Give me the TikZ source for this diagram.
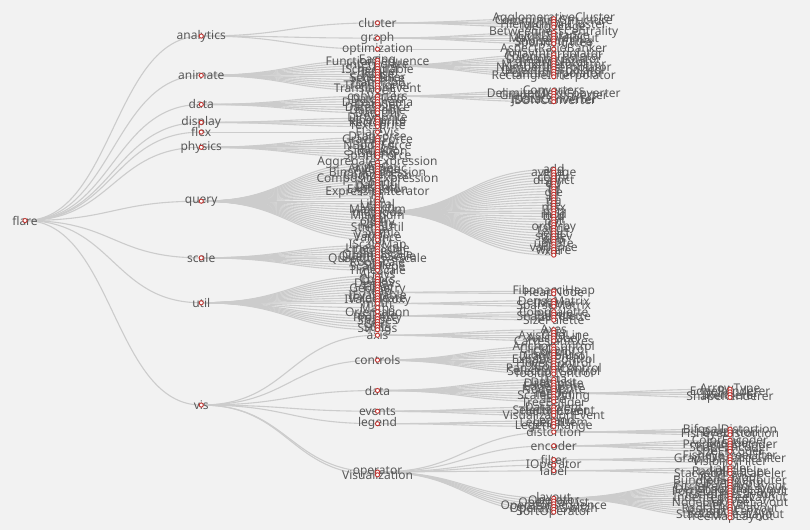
\documentclass[tikz,border=0pt]{standalone}
\usepackage{fontspec}
\setmainfont{Noto Sans}
\definecolor{bgc}{HTML}{F2F2F2}
\definecolor{edgec}{HTML}{CCCCCC}
\definecolor{dotc}{HTML}{C23531}
\definecolor{txtc}{HTML}{595959}
\tikzset{
 lbl/.style={font=\fontsize{12}{14}\selectfont, text=txtc, inner sep=0pt, anchor=center},
 lnk/.style={draw=edgec, line width=1.1pt},
 dotst/.style={draw=dotc, fill=white, line width=0.9pt},
}
\newcount\passno
% #1 name, #2 parent, #3 depth, #4 breadth unit, #5 label
\newcommand\tk[5]{\ifcase\passno
  \coordinate (#1) at ({25+176.25*#3},{36.04+2.764*(#4)});%
 \or \draw[lnk] (#2) .. controls +(88.125,0) and +(-88.125,0) .. (#1);%
 \or \node[lbl] (#1-t) at (#1) {#5};%
 \or \draw[dotst] (#1) circle[radius=2.1pt];%
 \fi}
\newcommand\rootnk[3]{\ifcase\passno
  \coordinate (#1) at (25,{36.04+2.764*(#2)});%
 \or
 \or \node[lbl] (#1-t) at (#1) {#3};%
 \or \draw[dotst] (#1) circle[radius=2.1pt];%
 \fi}
% #1 parent, #2 prefix, #3 depth, #4 first unit, #5 labels
\newcommand\leaves[5]{\foreach \lab [count=\i from 0] in {#5} {\tk{#2\lab}{#1}{#3}{#4+\i}{\lab}}}
\newcommand\flaretree{%
\rootnk{flare}{66.75}{flare}
% level 1
\tk{an}{flare}{1}{0}{analytics}
\tk{am}{flare}{1}{14.25}{animate}
\tk{da}{flare}{1}{24.75}{data}
\tk{di}{flare}{1}{31.25}{display}
\tk{fx}{flare}{1}{34.75}{flex}
\tk{ph}{flare}{1}{40.25}{physics}
\tk{qu}{flare}{1}{59.75}{query}
\tk{sc}{flare}{1}{80.25}{scale}
\tk{ut}{flare}{1}{96.5}{util}
\tk{vi}{flare}{1}{133.5}{vis}
% analytics
\tk{cl}{an}{2}{-4.75}{cluster}
\tk{gr}{an}{2}{0.75}{graph}
\tk{op}{an}{2}{4.75}{optimization}
\leaves{cl}{cl-}{3}{-6.25}{AgglomerativeCluster,CommunityStructure,HierarchicalCluster,MergeEdge}
\leaves{gr}{gr-}{3}{-1.25}{BetweennessCentrality,LinkDistance,MaxFlowMinCut,ShortestPaths,SpanningTree}
\leaves{op}{op-}{3}{4.75}{AspectRatioBanker}
% animate
\leaves{am}{am-}{2}{8.75}{Easing,FunctionSequence}
\tk{ip}{am}{2}{10.75}{interpolate}
\leaves{am}{am-}{2}{11.75}{ISchedulable,Parallel,Pause,Scheduler,Sequence,Transition,Transitioner,TransitionEvent,Tween}
\leaves{ip}{ip-}{3}{6.75}{ArrayInterpolator,ColorInterpolator,DateInterpolator,Interpolator,MatrixInterpolator,NumberInterpolator,ObjectInterpolator,PointInterpolator,RectangleInterpolator}
% data
\tk{cv}{da}{2}{21.75}{converters}
\leaves{da}{da-}{2}{22.75}{DataField,DataSchema,DataSet,DataSource,DataTable,DataUtil}
\leaves{cv}{cv-}{3}{19.75}{Converters,DelimitedTextConverter,GraphMLConverter,IDataConverter,JSONConverter}
% display, flex, physics
\leaves{di}{di-}{2}{29.75}{DirtySprite,LineSprite,RectSprite,TextSprite}
\leaves{fx}{fx-}{2}{34.75}{FlareVis}
\leaves{ph}{ph-}{2}{36.75}{DragForce,GravityForce,IForce,NBodyForce,Particle,Simulation,Spring,SpringForce}
% query
\leaves{qu}{qu-}{2}{45.75}{AggregateExpression,And,Arithmetic,Average,BinaryExpression,Comparison,CompositeExpression,Count,DateUtil,Distinct,Expression,ExpressionIterator,Fn,If,IsA,Literal,Match,Maximum}
\tk{me}{qu}{2}{63.75}{methods}
\leaves{qu}{qu-}{2}{64.75}{Minimum,Not,Or,Query,Range,StringUtil,Sum,Variable,Variance,Xor}
\leaves{me}{me-}{3}{48.25}{add,and,average,count,distinct,div,eq,fn,gt,gte,iff,isa,lt,lte,max,min,mod,mul,neq,not,or,orderby,range,select,stddev,sub,sum,update,variance,where,xor}
\tk{me-us}{me}{3}{79.25}{\_}
% scale
\leaves{sc}{sc-}{2}{75.75}{IScaleMap,LinearScale,LogScale,OrdinalScale,QuantileScale,QuantitativeScale,RootScale,Scale,ScaleType,TimeScale}
% util
\leaves{ut}{ut-}{2}{86.75}{Arrays,Colors,Dates,Displays,Filter,Geometry}
\tk{hp}{ut}{2}{92.75}{heap}
\leaves{ut}{ut-}{2}{93.75}{IEvaluable,IPredicate,IValueProxy}
\tk{ma}{ut}{2}{96.75}{math}
\tk{ut-Maths}{ut}{2}{98.25}{Maths}
\tk{ut-Orientation}{ut}{2}{99.75}{Orientation}
\tk{pa}{ut}{2}{101.25}{palette}
\leaves{ut}{ut-}{2}{102.25}{Property,Shapes,Sort,Stats,Strings}
\leaves{hp}{hp-}{3}{92.25}{FibonacciHeap,HeapNode}
\leaves{ma}{ma-}{3}{95.75}{DenseMatrix,IMatrix,SparseMatrix}
\leaves{pa}{pa-}{3}{99.75}{ColorPalette,Palette,ShapePalette,SizePalette}
% vis
\tk{ax}{vi}{2}{108.25}{axis}
\tk{ct}{vi}{2}{117.25}{controls}
\tk{vd}{vi}{2}{128.25}{data}
\tk{ev}{vi}{2}{135.75}{events}
\tk{lg}{vi}{2}{140.25}{legend}
\tk{or}{vi}{2}{157.75}{operator}
\tk{vi-Visualization}{vi}{2}{158.75}{Visualization}
\leaves{ax}{ax-}{3}{106.25}{Axes,Axis,AxisGridLine,AxisLabel,CartesianAxes}
\leaves{ct}{ct-}{3}{112.25}{AnchorControl,ClickControl,Control,ControlList,DragControl,ExpandControl,HoverControl,IControl,PanZoomControl,SelectionControl,TooltipControl}
\leaves{vd}{vd-}{3}{124.25}{Data,DataList,DataSprite,EdgeSprite,NodeSprite}
\tk{rd}{vd}{3}{129.25}{render}
\leaves{vd}{vd-}{3}{130.25}{ScaleBinding,Tree,TreeBuilder}
\leaves{rd}{rd-}{4}{127.75}{ArrowType,EdgeRenderer,IRenderer,ShapeRenderer}
\leaves{ev}{ev-}{3}{134.25}{DataEvent,SelectionEvent,TooltipEvent,VisualizationEvent}
\leaves{lg}{lg-}{3}{139.25}{Legend,LegendItem,LegendRange}
\tk{ds}{or}{3}{143.25}{distortion}
\tk{en}{or}{3}{148.25}{encoder}
\tk{fi}{or}{3}{153.25}{filter}
\tk{or-IOperator}{or}{3}{155.25}{IOperator}
\tk{lb}{or}{3}{157.25}{label}
\tk{ly}{or}{3}{167.25}{layout}
\leaves{or}{or-}{3}{168.25}{Operator,OperatorList,OperatorSequence,OperatorSwitch,SortOperator}
\leaves{ds}{ds-}{4}{142.25}{BifocalDistortion,Distortion,FisheyeDistortion}
\leaves{en}{en-}{4}{146.25}{ColorEncoder,Encoder,PropertyEncoder,ShapeEncoder,SizeEncoder}
\leaves{fi}{fi-}{4}{152.25}{FisheyeTreeFilter,GraphDistanceFilter,VisibilityFilter}
\leaves{lb}{lb-}{4}{156.25}{Labeler,RadialLabeler,StackedAreaLabeler}
\leaves{ly}{ly-}{4}{160.25}{AxisLayout,BundledEdgeRouter,CircleLayout,CirclePackingLayout,DendrogramLayout,ForceDirectedLayout,IcicleTreeLayout,IndentedTreeLayout,Layout,NodeLinkTreeLayout,PieLayout,RadialTreeLayout,RandomLayout,StackedAreaLayout,TreeMapLayout}
}
\begin{document}
\begin{tikzpicture}[x=1pt,y=-1pt]
\fill[bgc] (0,0) rectangle (810,530);
\useasboundingbox (0,0) rectangle (810,530);
\global\passno=0 \flaretree
\global\passno=1 \flaretree
\global\passno=2 \flaretree
\global\passno=3 \flaretree
\end{tikzpicture}
\end{document}
